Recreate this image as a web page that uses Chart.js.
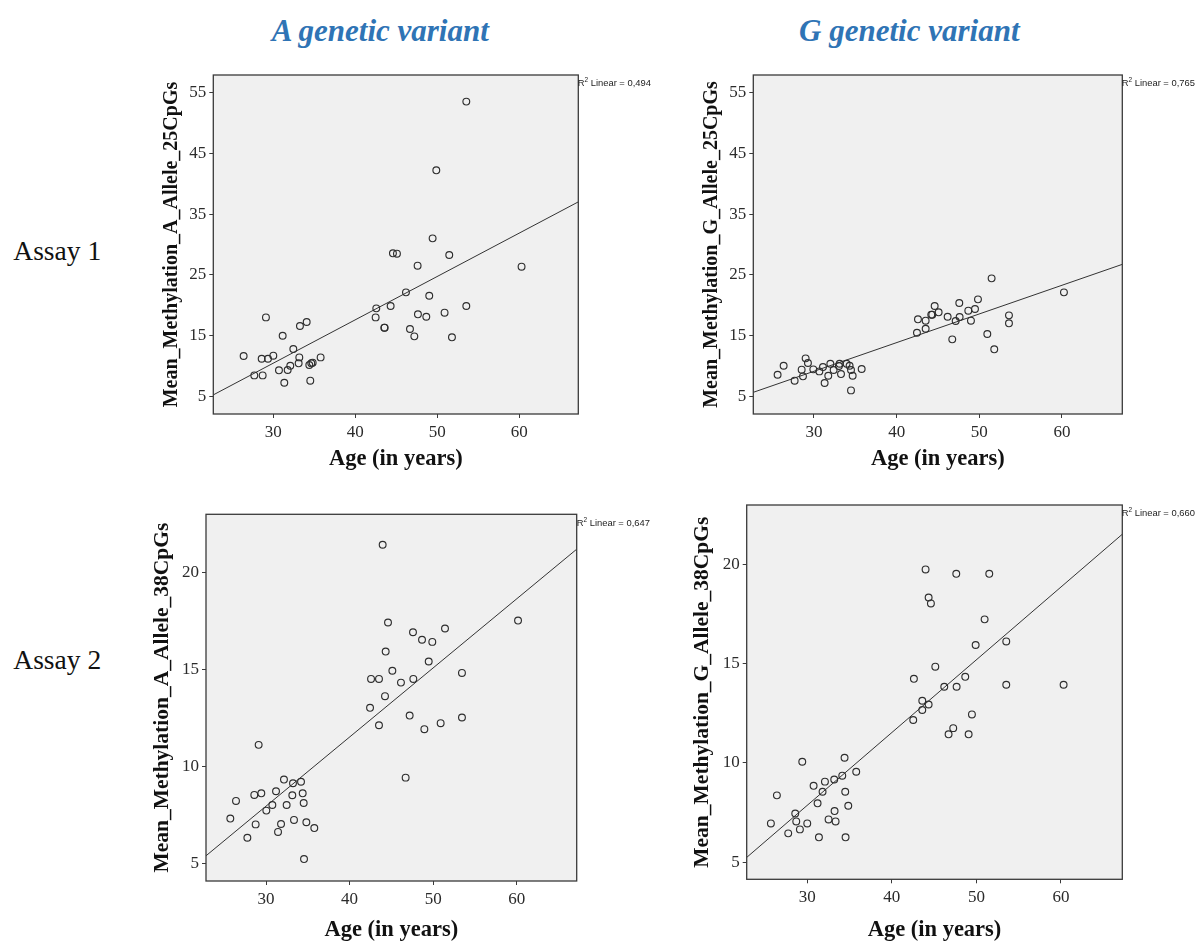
<!DOCTYPE html>
<html>
<head>
<meta charset="utf-8">
<script src="https://cdn.jsdelivr.net/npm/chart.js@4.4.1/dist/chart.umd.min.js"></script>
<style>
  html, body { margin: 0; padding: 0; background: #ffffff; }
  body { width: 1197px; height: 944px; position: relative; overflow: hidden; }
  .title { position: absolute; font-family: "Liberation Serif", "Times New Roman", serif; font-weight: bold; font-style: italic; font-size: 31px; line-height: 1; color: #2f74b5; white-space: nowrap; transform: translateX(-50%); }
  .assay { position: absolute; font-family: "Liberation Serif", "Times New Roman", serif; font-size: 27.5px; line-height: 1; color: #111; white-space: nowrap; }
  .r2 { position: absolute; font-family: "Liberation Sans", Arial, sans-serif; font-size: 9.4px; line-height: 1; color: #222; white-space: nowrap; }
  .r2 sup { font-size: 6.5px; vertical-align: 4px; line-height: 0; }
  canvas { position: absolute; }
</style>
</head>
<body>
<div class="title" style="left:380.3px; top:15px;">A genetic variant</div>
<div class="title" style="left:909.3px; top:15px;">G genetic variant</div>
<div class="assay" style="left:13.3px; top:237px;">Assay 1</div>
<div class="assay" style="left:13.3px; top:646.3px;">Assay 2</div>

<script>
// ---------------- DATA ----------------
const xTicks = [30, 40, 50, 60];
const yTicksAssay1 = [5, 15, 25, 35, 45, 55];
const yTicksAssay2 = [5, 10, 15, 20];

// Assay 1, A allele (25 CpGs)
const ageA1 = [26.38, 27.68, 28.58, 28.70, 29.10, 29.35, 30.00, 30.69, 31.14, 31.34, 31.75, 32.07, 32.44, 33.09, 33.17, 33.25, 34.07, 34.39, 34.51, 34.63, 34.80, 35.77,
               42.56, 42.48, 43.54, 43.58, 44.31, 44.59, 45.08, 46.18, 46.67, 47.20, 47.60, 47.64, 48.66, 49.02, 49.43, 49.88, 50.89, 51.46, 51.79, 53.54, 53.54, 60.28];
const methA1 = [11.68, 8.50, 11.24, 8.50, 18.03, 11.24, 11.74, 9.33, 15.02, 7.30, 9.38, 10.09, 12.83, 10.48, 11.46, 16.61, 17.27, 10.20, 7.63, 10.48, 10.59, 11.46,
                19.51, 18.03, 16.34, 16.34, 19.90, 28.55, 28.49, 22.14, 16.12, 14.91, 26.52, 18.53, 18.14, 21.59, 31.01, 42.18, 18.80, 28.27, 14.75, 53.47, 19.90, 26.36];

// Assay 1, G allele (25 CpGs)
const ageG1 = [25.60, 26.33, 27.66, 28.51, 28.67, 28.99, 29.27, 29.92, 30.65, 31.09, 31.29, 31.73, 31.98, 32.38, 33.02, 33.10, 33.27, 33.95, 34.31, 34.48, 34.48, 34.68, 35.77,
               42.46, 42.58, 43.51, 43.51, 44.19, 44.31, 44.60, 45.08, 46.17, 46.73, 47.14, 47.58, 47.62, 48.67, 48.99, 49.48, 49.84, 50.97, 51.49, 51.81, 53.59, 53.59, 60.24];
const methG1 = [8.61, 10.09, 7.63, 9.44, 8.34, 11.30, 10.53, 9.49, 9.16, 9.87, 7.25, 8.45, 10.42, 9.38, 10.04, 10.42, 8.72, 10.42, 10.09, 9.38, 6.04, 8.45, 9.55,
                15.51, 17.71, 16.17, 17.49, 18.47, 18.47, 19.90, 18.86, 18.14, 14.42, 17.43, 20.39, 18.09, 19.13, 17.49, 19.40, 20.99, 15.30, 24.44, 12.78, 18.36, 17.05, 22.14];

// Assay 2, A allele (38 CpGs)
const ageA2 = [25.73, 26.41, 27.77, 28.60, 28.76, 29.12, 29.44, 30.04, 30.76, 31.20, 31.44, 31.80, 32.15, 32.47, 33.15, 33.23, 33.35, 34.19, 34.39, 34.51, 34.55, 34.83, 35.78,
               42.45, 42.57, 43.52, 43.52, 43.96, 44.24, 44.32, 44.60, 45.12, 46.15, 46.71, 47.19, 47.59, 47.63, 48.67, 48.95, 49.47, 49.90, 50.90, 51.42, 53.45, 53.45, 60.16];
const methA2 = [7.31, 8.22, 6.32, 8.53, 7.01, 11.11, 8.61, 7.72, 8.01, 8.72, 6.62, 7.03, 9.32, 8.01, 8.51, 9.13, 7.24, 9.21, 8.61, 8.11, 5.22, 7.12, 6.82,
                13.02, 14.51, 14.51, 12.12, 21.43, 13.62, 15.92, 17.42, 14.93, 14.32, 9.42, 12.62, 16.92, 14.51, 16.53, 11.92, 15.41, 16.42, 12.23, 17.11, 14.82, 12.52, 17.52];

// Assay 2, G allele (38 CpGs)
const ageG2 = [25.70, 26.41, 27.75, 28.58, 28.70, 29.13, 29.41, 30.00, 30.75, 31.22, 31.38, 31.81, 32.09, 32.52, 33.19, 33.23, 33.35, 34.14, 34.41, 34.49, 34.53, 34.85, 35.79,
               42.53, 42.61, 43.60, 43.60, 43.99, 44.35, 44.35, 44.62, 45.14, 46.20, 46.71, 47.26, 47.62, 47.66, 48.68, 49.08, 49.47, 49.91, 50.97, 51.52, 53.53, 53.53, 60.31];
const methG2 = [6.96, 8.37, 6.46, 7.46, 7.06, 6.66, 10.06, 6.96, 8.85, 7.97, 6.26, 8.55, 9.06, 7.16, 9.17, 7.58, 7.06, 9.36, 10.26, 8.55, 6.26, 7.85, 9.56,
                12.16, 14.23, 12.66, 13.13, 19.73, 12.94, 18.32, 18.02, 14.84, 13.83, 11.44, 11.75, 19.51, 13.83, 14.33, 11.44, 12.44, 15.93, 17.22, 19.51, 16.11, 13.93, 13.93];

// Linear fit lines (endpoints read at the plot edges)
const fitA1X = [22.68, 67.2], fitA1Y = [5.30, 37.0];
const fitG1X = [22.66, 67.3], fitG1Y = [5.72, 26.74];
const fitA2X = [22.82, 67.18], fitA2Y = [5.39, 21.2];
const fitG2X = [22.84, 67.25], fitG2Y = [5.25, 21.5];

const r2Labels = ['0,494', '0,765', '0,647', '0,660'];
const yTitles = ['Mean_Methylation_A_Allele_25CpGs', 'Mean_Methylation_G_Allele_25CpGs',
                 'Mean_Methylation_A_Allele_38CpGs', 'Mean_Methylation_G_Allele_38CpGs'];
const xTitle = 'Age (in years)';

// ---------------- LAYOUT ----------------
const SERIF = '"Liberation Serif", "Times New Roman", serif';
const INK = '#2b2b2b';

const panels = [
  { ages: ageA1, vals: methA1, fx: fitA1X, fy: fitA1Y, yTicks: yTicksAssay1, yTitle: yTitles[0], r2: r2Labels[0],
    area: {L: 213.3, T: 75, R: 578.3, B: 414}, xr: [22.68, 67.2], yr: [2.16, 57.84],
    yTitleSize: 20, dY: 41.6, dX: 45, r2pos: [577.7, 82.7] },
  { ages: ageG1, vals: methG1, fx: fitG1X, fy: fitG1Y, yTicks: yTicksAssay1, yTitle: yTitles[1], r2: r2Labels[1],
    area: {L: 753.3, T: 75, R: 1122.3, B: 414}, xr: [22.66, 67.3], yr: [2.16, 57.84],
    yTitleSize: 20, dY: 41.6, dX: 45, r2pos: [1121.7, 82.3] },
  { ages: ageA2, vals: methA2, fx: fitA2X, fy: fitA2Y, yTicks: yTicksAssay2, yTitle: yTitles[2], r2: r2Labels[2],
    area: {L: 206, T: 514.3, R: 576.7, B: 881}, xr: [22.82, 67.18], yr: [4.09, 23.0],
    yTitleSize: 21.5, dY: 43.3, dX: 49, r2pos: [576.7, 522.3] },
  { ages: ageG2, vals: methG2, fx: fitG2X, fy: fitG2Y, yTicks: yTicksAssay2, yTitle: yTitles[3], r2: r2Labels[3],
    area: {L: 746.7, T: 505, R: 1122.3, B: 879.3}, xr: [22.84, 67.25], yr: [4.15, 22.97],
    yTitleSize: 21.5, dY: 44, dX: 50.4, r2pos: [1121.7, 512.3] }
];

const plotFrame = {
  id: 'plotFrame',
  beforeDatasetsDraw(chart) {
    const {ctx, chartArea: a} = chart;
    ctx.save();
    ctx.fillStyle = '#f0f0f0';
    ctx.fillRect(a.left, a.top, a.right - a.left, a.bottom - a.top);
    ctx.restore();
  },
  afterDatasetsDraw(chart) {
    const {ctx, chartArea: a} = chart;
    ctx.save();
    ctx.strokeStyle = '#3a3a3a';
    ctx.lineWidth = 1.3;
    ctx.strokeRect(a.left, a.top, a.right - a.left, a.bottom - a.top);
    ctx.restore();
  }
};

panels.forEach((p) => {
  const xTitleSize = 22.5;
  const lhY = p.yTitleSize * 1.2;
  const lhX = xTitleSize * 1.2;
  const yw = p.dY + lhY / 2;          // y-axis box width
  const xh = p.dX + lhX / 2;          // x-axis box height
  const a = p.area;
  const cl = Math.floor(a.L - yw - 2);
  const ct = Math.floor(a.T - 22);
  const cr = Math.ceil(a.R + 6);
  const cb = Math.min(944, Math.ceil(a.B + xh + 1));
  const cw = cr - cl, ch = cb - ct;

  const canvas = document.createElement('canvas');
  canvas.width = cw; canvas.height = ch;
  canvas.style.left = cl + 'px'; canvas.style.top = ct + 'px';
  canvas.style.width = cw + 'px'; canvas.style.height = ch + 'px';
  document.body.appendChild(canvas);

  const pad = {
    left: a.L - yw - cl,
    top: a.T - ct,
    right: cr - a.R,
    bottom: ch - (a.B - ct) - xh
  };

  const pts = p.ages.map((x, i) => ({x: x, y: p.vals[i]}));
  const fit = p.fx.map((x, i) => ({x: x, y: p.fy[i]}));

  new Chart(canvas, {
    type: 'scatter',
    data: {
      datasets: [
        { data: fit, showLine: true, borderColor: '#333', borderWidth: 1, pointRadius: 0, fill: false, order: 2 },
        { data: pts, pointStyle: 'circle', pointRadius: 3.4, pointBorderWidth: 1.15, borderColor: '#2e2e2e',
          backgroundColor: 'rgba(0,0,0,0)', pointBackgroundColor: 'rgba(0,0,0,0)', order: 1 }
      ]
    },
    options: {
      responsive: false,
      animation: false,
      events: [],
      layout: { padding: pad },
      plugins: { legend: { display: false }, tooltip: { enabled: false }, title: { display: false } },
      scales: {
        x: {
          type: 'linear', min: p.xr[0], max: p.xr[1],
          afterBuildTicks: (s) => { s.ticks = xTicks.map(v => ({value: v})); },
          afterFit: (s) => { s.height = xh; },
          border: { display: false },
          grid: { display: true, drawOnChartArea: false, drawTicks: true, tickLength: 4, color: '#3a3a3a', lineWidth: 1 },
          ticks: { color: INK, font: { family: SERIF, size: 17 }, padding: 4, maxRotation: 0, autoSkip: false,
                   callback: (v) => String(v) },
          title: { display: true, text: xTitle, color: '#111', font: { family: SERIF, size: xTitleSize, weight: 'bold' },
                   padding: { top: 0, bottom: 0 } }
        },
        y: {
          type: 'linear', min: p.yr[0], max: p.yr[1],
          afterBuildTicks: (s) => { s.ticks = p.yTicks.map(v => ({value: v})); },
          afterFit: (s) => { s.width = yw; },
          border: { display: false },
          grid: { display: true, drawOnChartArea: false, drawTicks: true, tickLength: 4, color: '#3a3a3a', lineWidth: 1 },
          ticks: { color: INK, font: { family: SERIF, size: 17 }, padding: 3, autoSkip: false,
                   callback: (v) => String(v) },
          title: { display: true, text: p.yTitle, color: '#111', font: { family: SERIF, size: p.yTitleSize, weight: 'bold' },
                   padding: { top: 0, bottom: 0 } }
        }
      }
    },
    plugins: [plotFrame]
  });

  const r = document.createElement('div');
  r.className = 'r2';
  r.innerHTML = 'R<sup>2</sup> Linear = ' + p.r2;
  r.style.left = p.r2pos[0] + 'px';
  r.style.top = (p.r2pos[1] - 4.6) + 'px';
  document.body.appendChild(r);
});
</script>
</body>
</html>
